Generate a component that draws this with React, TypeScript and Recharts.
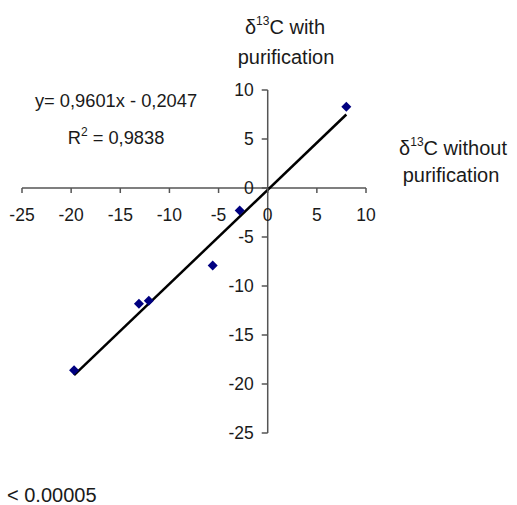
import React from 'react';
import {
  ScatterChart,
  Scatter,
  XAxis,
  YAxis,
  ReferenceLine,
} from 'recharts';

// values
const withoutPurification = [8.0, -2.85, -5.6, -12.1, -13.1, -19.7];
const withPurification = [8.3, -2.3, -7.9, -11.5, -11.8, -18.6];
const trendX = [-19.7, 8.0];
const trendY = [-19.1, 7.5];
const axisTicks = [-25, -20, -15, -10, -5, 0, 5, 10];
const axisDomain = [-25, 10];

const points = withoutPurification.map((x, i) => ({ x, y: withPurification[i] }));

const W = 517;
const H = 505;
const AXIS_SIZE = 1;
const margin = { top: 90, right: 151, bottom: 72 - AXIS_SIZE, left: 22 - AXIS_SIZE };
const PLOT_W = W - margin.left - margin.right - AXIS_SIZE;
const PLOT_H = H - margin.top - margin.bottom - AXIS_SIZE;
const span = axisDomain[1] - axisDomain[0];
// pixel position of the zero lines
const X0 = margin.left + AXIS_SIZE + (PLOT_W * (0 - axisDomain[0])) / span;
const Y0 = margin.top + (PLOT_H * (axisDomain[1] - 0)) / span;

const FONT = '"Liberation Sans", Arial, sans-serif';
const INK = '#1a1a1a';
const AXIS = '#555';

function XTick(props: any) {
  const { x, payload } = props;
  return (
    <g>
      <line x1={x} y1={Y0} x2={x} y2={Y0 + 5} stroke={AXIS} strokeWidth={1.5} />
      <text x={x} y={Y0 + 33} textAnchor="middle" fontSize={17.5} fontFamily={FONT} fill={INK}>
        {payload.value}
      </text>
    </g>
  );
}

function YTick(props: any) {
  const { y, payload } = props;
  return (
    <g>
      <line x1={X0 - 6} y1={y} x2={X0} y2={y} stroke={AXIS} strokeWidth={1.5} />
      <text x={X0 - 14} y={y + 6} textAnchor="end" fontSize={17.5} fontFamily={FONT} fill={INK}>
        {payload.value}
      </text>
    </g>
  );
}

function Diamond(props: any) {
  const { cx, cy } = props;
  const r = 5;
  return (
    <polygon
      points={`${cx},${cy - r} ${cx + r},${cy} ${cx},${cy + r} ${cx - r},${cy}`}
      fill="#000080"
    />
  );
}

export default function App() {
  return (
    <div style={{ position: 'absolute', left: 0, top: 0, width: W, height: H, background: '#fff' }}>
      <ScatterChart width={W} height={H} margin={margin}>
        <XAxis
          type="number"
          dataKey="x"
          domain={axisDomain}
          ticks={axisTicks}
          interval={0}
          height={AXIS_SIZE}
          axisLine={false}
          tickLine={false}
          tickSize={0}
          tick={<XTick />}
        />
        <YAxis
          type="number"
          dataKey="y"
          domain={axisDomain}
          ticks={axisTicks}
          interval={0}
          width={AXIS_SIZE}
          axisLine={false}
          tickLine={false}
          tickSize={0}
          tick={<YTick />}
        />
        <ReferenceLine y={0} stroke={AXIS} strokeWidth={1.5} />
        <ReferenceLine x={0} stroke={AXIS} strokeWidth={1.5} />
        <ReferenceLine
          segment={[
            { x: trendX[0], y: trendY[0] },
            { x: trendX[1], y: trendY[1] },
          ]}
          stroke="#000"
          strokeWidth={2.5}
        />
        <Scatter data={points} shape={<Diamond />} isAnimationActive={false} />
      </ScatterChart>
      <svg
        width={W}
        height={H}
        style={{ position: 'absolute', left: 0, top: 0, pointerEvents: 'none' }}
        fontFamily={FONT}
        fill={INK}
      >
        <text x={116} y={107} textAnchor="middle" fontSize={18.3}>
          y= 0,9601x - 0,2047
        </text>
        <text x={116} y={144} textAnchor="middle" fontSize={18.3}>
          R<tspan dy={-8} fontSize={12}>2</tspan>
          <tspan dy={8}> = 0,9838</tspan>
        </text>
        <text x={285} y={34} textAnchor="middle" fontSize={20}>
          δ<tspan dy={-9} fontSize={12}>13</tspan>
          <tspan dy={9}>C with</tspan>
        </text>
        <text x={286} y={64} textAnchor="middle" fontSize={20}>
          purification
        </text>
        <text x={453} y={155} textAnchor="middle" fontSize={20}>
          δ<tspan dy={-9} fontSize={12}>13</tspan>
          <tspan dy={9}>C without</tspan>
        </text>
        <text x={451} y={182} textAnchor="middle" fontSize={20}>
          purification
        </text>
        <text x={7} y={502} fontSize={20}>
          &lt; 0.00005
        </text>
      </svg>
    </div>
  );
}
